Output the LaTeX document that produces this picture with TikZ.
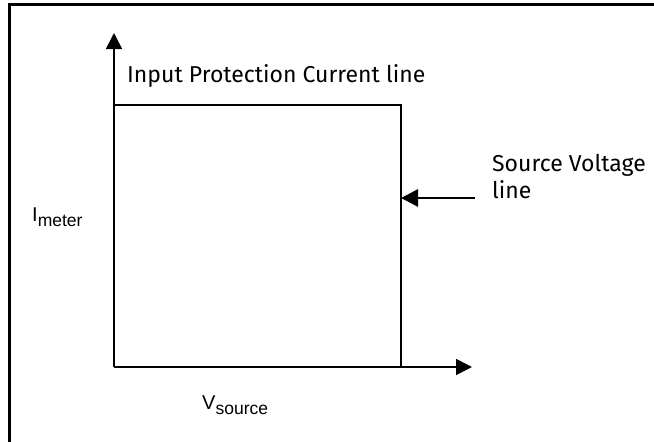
\documentclass[tikz,border=0pt]{standalone}
\usepackage{fontspec}
\setmainfont{Fira Sans}
\newfontfamily\axisfont{Liberation Sans}
\newcommand{\axsub}[1]{\raisebox{-5pt}{\fontsize{17.5}{20}\selectfont #1}}
\usetikzlibrary{arrows.meta, positioning}

\begin{document}
\begin{tikzpicture}[
    x=1pt, y=-1pt,
    axis/.style={line width=1.6pt, -{Triangle[length=16pt, width=16pt]}},
    limit/.style={line width=1.4pt},
    pointer/.style={line width=2.8pt, -{Triangle[length=17pt, width=17pt]}},
    lbl/.style={inner sep=0pt, font=\fontsize{23}{27}\selectfont},
    axlbl/.style={inner sep=0pt, font=\axisfont\fontsize{20}{24}\selectfont}
]
\useasboundingbox (0,0) rectangle (654,442);

% --- Frame (cut off at right and bottom) ---
\begin{scope}
\clip (0,0) rectangle (654,442);
\draw[line width=2.3pt] (9.5,4.5) rectangle (680,470);
\end{scope}

% --- Axes ---
\coordinate (origin) at (114,367);
\coordinate (ytip) at (114,33);
\coordinate (xtip) at (472,367);
\draw[axis] (origin) -- (ytip);
\draw[axis] (origin) -- (xtip);

% --- Limit lines ---
\coordinate (ilim) at (114,105);
\coordinate (corner) at (401,105);
\coordinate (vlim) at (401,367);
\draw[limit] (ilim) -- (corner) -- (vlim);

% --- Labels ---
\node[lbl, anchor=base west] (ipclbl) at (127,82) {Input Protection Current line};
\node[lbl, anchor=base west, align=left] (svlbl) at (492,198) {Source Voltage\\line};
\node[axlbl, anchor=base west] (imeter) at (32,221) {I\axsub{meter}};
\node[axlbl, anchor=base west] (vsource) at (202,409) {V\axsub{source}};

% Pointer to the voltage line
\coordinate (svtail) at (475,198);
\draw[pointer] (svtail) -- (corner |- svtail);

\end{tikzpicture}
\end{document}
